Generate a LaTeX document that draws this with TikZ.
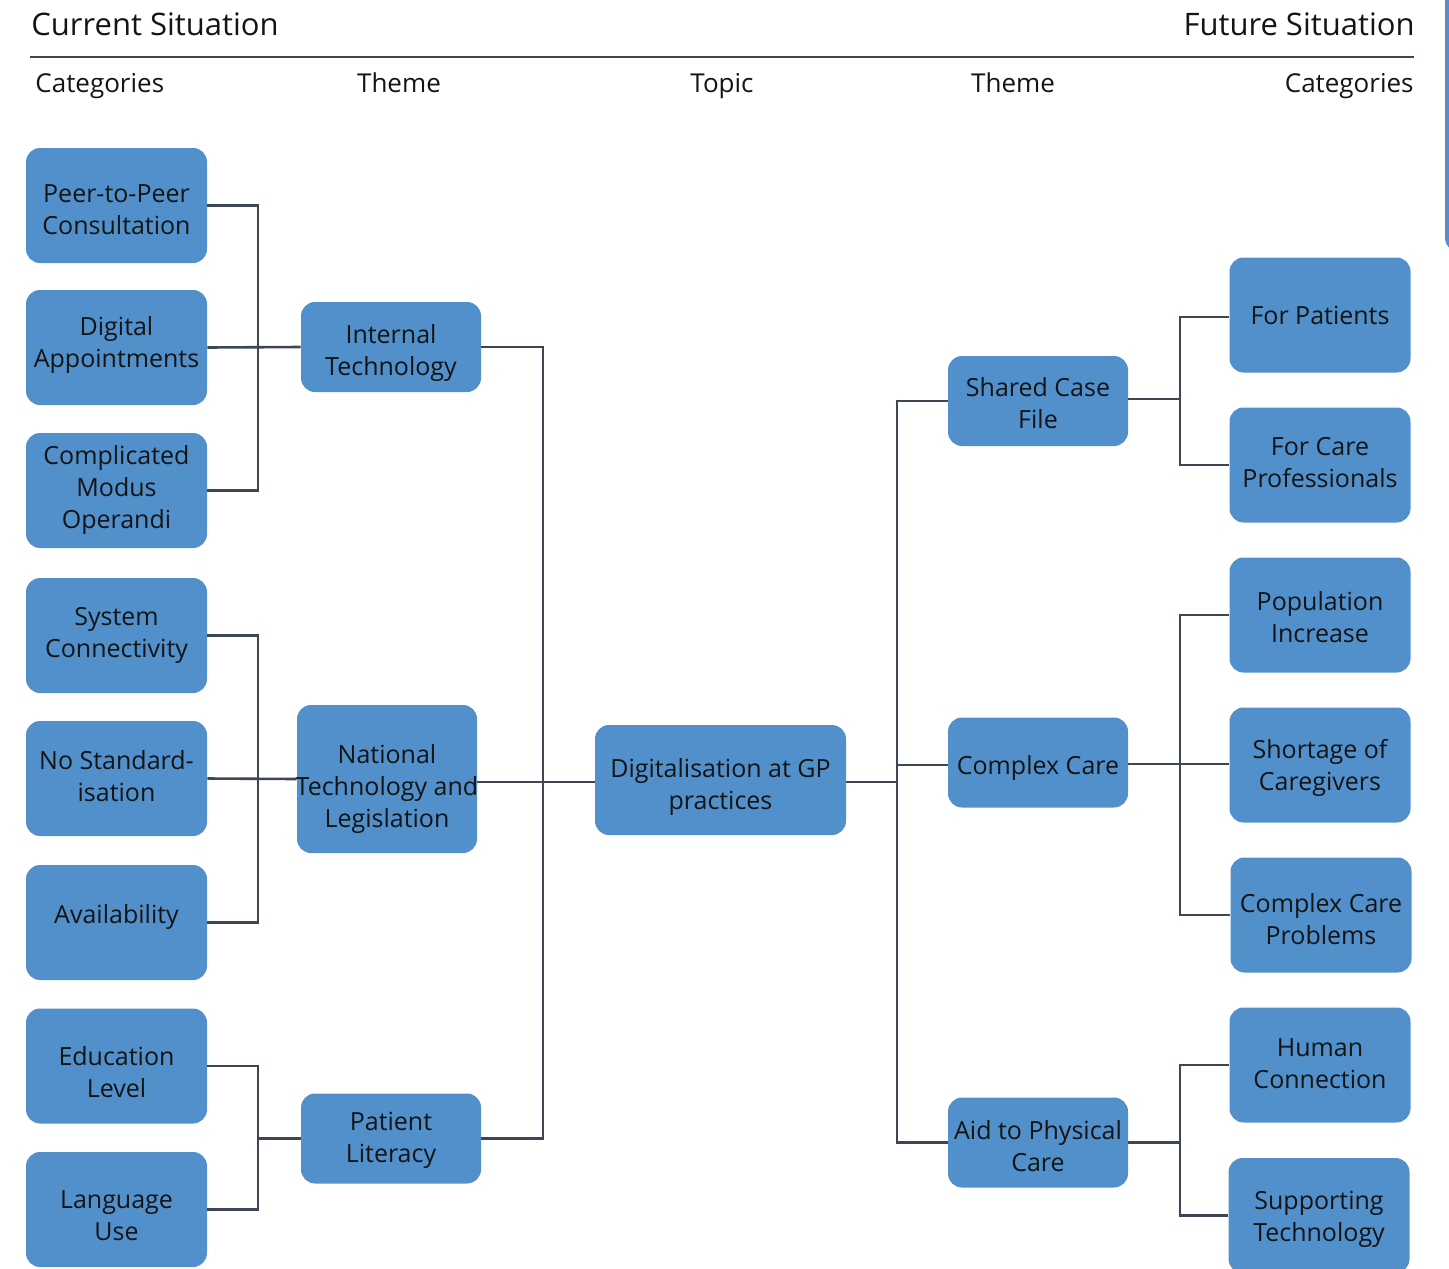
\documentclass[tikz,border=0pt]{standalone}
\usepackage{fontspec}
\setmainfont{Open Sans}
\usetikzlibrary{calc}
\definecolor{boxblue}{HTML}{5190CB}
\definecolor{linkgray}{HTML}{3E4656}
\definecolor{inkblack}{HTML}{141414}

\begin{document}
\begin{tikzpicture}[x=0.5pt,y=-0.5pt,
  box/.style={fill=boxblue, rounded corners=7pt, inner sep=0pt},
  boxtext/.style={align=center, inner sep=0pt, text=inkblack,
                  font=\fontsize{12.5}{16}\selectfont},
  say/.style 2 args={label={[boxtext, yshift=#1]center:{#2}}},
  catbox/.style={box, minimum width=90.5pt, minimum height=57.5pt},
  themebox/.style={box, minimum width=90pt, minimum height=45pt},
  topicbox/.style={box, minimum width=125.5pt, minimum height=55pt},
  link/.style={draw=linkgray, line width=1.3pt},
  title/.style={inner sep=0pt, text=inkblack, font=\fontsize{15.5}{18}\selectfont},
  colhead/.style={inner sep=0pt, text=inkblack, font=\fontsize{13}{16}\selectfont}
]
\useasboundingbox (0,0) rectangle (1449,1268);
\clip (0,0) rectangle (1449,1268);

% edge of a neighbouring panel at the right border
\fill[boxblue, rounded corners=7pt] (1445,-40) rectangle (1530,252);

% header
\node[title, anchor=base west] (curr) at (31,36) {Current Situation};
\node[title, anchor=base east] (fut) at (1415,36) {Future Situation};
\draw[link] (30,57) -- (1414,57);
\node[colhead, anchor=base west] (h1) at (35,92) {Categories};
\node[colhead, anchor=base] (h2) at (399,92) {Theme};
\node[colhead, anchor=base] (h3) at (722,92) {Topic};
\node[colhead, anchor=base] (h4) at (1013,92) {Theme};
\node[colhead, anchor=base east] (h5) at (1414,92) {Categories};

% current situation: categories
\node[catbox, say={-2.25pt}{Peer-to-Peer\\Consultation}] (c1) at (116.5,205.5) {};
\node[catbox, say={1pt}{Digital\\Appointments}] (c2) at (116.5,347.5) {};
\node[catbox, say={0.5pt}{Complicated\\Modus\\Operandi}] (c3) at (116.5,490.5) {};
\node[catbox, say={0pt}{System\\Connectivity}] (c4) at (116.5,635.5) {};
\node[catbox, say={1.25pt}{No Standard-\\isation}] (c5) at (116.5,778.5) {};
\node[catbox, say={3pt}{Availability}] (c6) at (116.5,922.5) {};
\node[catbox, say={-3.25pt}{Education\\Level}] (c7) at (116.5,1066) {};
\node[catbox, say={-3.25pt}{Language\\Use}] (c8) at (116.5,1209.5) {};

% current situation: themes
\node[themebox, say={-3pt}{Internal\\Technology}] (t1) at (391,347) {};
\node[themebox, minimum height=74pt, say={-5pt}{National\\Technology and\\Legislation}] (t2) at (387,779) {};
\node[themebox, say={-1pt}{Patient\\Literacy}] (t3) at (391,1138.5) {};

% topic
\node[topicbox, say={-3.5pt}{Digitalisation at GP\\practices}] (topic) at (720.5,780) {};

% future situation: themes
\node[themebox, say={-1.25pt}{Shared Case\\File}] (r1) at (1038,401) {};
\node[themebox, say={-2.5pt}{Complex Care}] (r2) at (1038,762.5) {};
\node[themebox, say={-1.75pt}{Aid to Physical\\Care}] (r3) at (1038,1142.5) {};

% future situation: categories
\node[catbox, say={0pt}{For Patients}] (f1) at (1320,315) {};
\node[catbox, say={1pt}{For Care\\Professionals}] (f2) at (1320,465) {};
\node[catbox, say={-1pt}{Population\\Increase}] (f3) at (1320,615) {};
\node[catbox, say={-1.5pt}{Shortage of\\Caregivers}] (f4) at (1320,765) {};
\node[catbox, say={-2.25pt}{Complex Care\\Problems}] (f5) at (1321,915) {};
\node[catbox, say={0.5pt}{Human\\Connection}] (f6) at (1320,1065) {};
\node[catbox, say={-1.75pt}{Supporting\\Technology}] (f7) at (1319,1215.5) {};

% bus junctions
\coordinate (jA) at (258,347);
\coordinate (jB) at (258,778.5);
\coordinate (jC) at (258,1138.5);
\coordinate (jM) at (543,782);
\coordinate (jR) at (897,782);
\coordinate (jD) at (1180,399);
\coordinate (jE) at (1180,764);
\coordinate (jF) at (1180,1142.5);

% left categories to themes
\draw[link] (c1.east) -| (jA) -- (c3.east -| jA) -- (c3.east);
\draw[link] (c2.east) -- (t1.west);
\draw[link] (c4.east) -| (jB) -- (c6.east -| jB) -- (c6.east);
\draw[link] (c5.east) -- (t2.west);
\draw[link] (c7.east) -| (jC) -- (c8.east -| jC) -- (c8.east);
\draw[link] (jC) -- (t3.west);

% themes to topic
\draw[link] (t1.east) -| (jM) -- (t3.east -| jM) -- (t3.east);
\draw[link] (t2.east |- jM) -- (jM);
\draw[link] (jM) -- (topic.west |- jM);

% topic to future themes
\draw[link] (topic.east |- jR) -- (jR);
\draw[link] (r1.west) -| (jR) -- (r3.west -| jR) -- (r3.west);
\draw[link] (r2.west |- 0,765) -- (jR |- 0,765);

% future themes to categories
\draw[link] (r1.east |- jD) -- (jD);
\draw[link] (f1.west |- 0,317) -| (jD) |- (f2.west);
\draw[link] (r2.east |- jE) -- (jE);
\draw[link] (f3.west) -| (jE) |- (f5.west);
\draw[link] (f4.west |- jE) -- (jE);
\draw[link] (r3.east) -- (jF);
\draw[link] (f6.west) -| (jF) |- (f7.west);
\end{tikzpicture}
\end{document}
